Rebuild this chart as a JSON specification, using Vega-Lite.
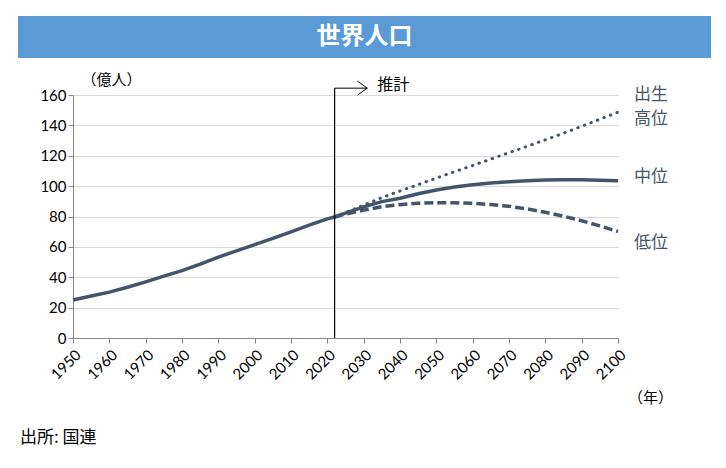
{
  "$schema": "https://vega.github.io/schema/vega-lite/v6.json",
  "background": "white",
  "padding": {"left": 18, "top": 16, "right": 0, "bottom": 12},
  "config": {
    "view": {"stroke": null},
    "axis": {"labelOverlap": false}
  },
  "title": {"text": "出所: 国連", "orient": "bottom", "anchor": "start", "font": "Noto Sans CJK JP", "fontSize": 17, "fontWeight": "normal", "color": "black", "offset": 24, "dx": 2},
  "datasets": {
    "pop": [
      {"year": 1950, "value": 25.0, "series": "実績"},
      {"year": 1955, "value": 27.7, "series": "実績"},
      {"year": 1960, "value": 30.2, "series": "実績"},
      {"year": 1965, "value": 33.4, "series": "実績"},
      {"year": 1970, "value": 37.0, "series": "実績"},
      {"year": 1975, "value": 40.7, "series": "実績"},
      {"year": 1980, "value": 44.4, "series": "実績"},
      {"year": 1985, "value": 48.6, "series": "実績"},
      {"year": 1990, "value": 53.3, "series": "実績"},
      {"year": 1995, "value": 57.4, "series": "実績"},
      {"year": 2000, "value": 61.5, "series": "実績"},
      {"year": 2005, "value": 65.6, "series": "実績"},
      {"year": 2010, "value": 69.9, "series": "実績"},
      {"year": 2015, "value": 74.3, "series": "実績"},
      {"year": 2020, "value": 78.4, "series": "実績"},
      {"year": 2022, "value": 79.7, "series": "実績"},
      {"year": 2022, "value": 79.7, "series": "中位"},
      {"year": 2025, "value": 82.2, "series": "中位"},
      {"year": 2030, "value": 86.3, "series": "中位"},
      {"year": 2035, "value": 89.8, "series": "中位"},
      {"year": 2040, "value": 92.0, "series": "中位"},
      {"year": 2045, "value": 95.0, "series": "中位"},
      {"year": 2050, "value": 97.4, "series": "中位"},
      {"year": 2055, "value": 99.4, "series": "中位"},
      {"year": 2060, "value": 100.9, "series": "中位"},
      {"year": 2065, "value": 102.0, "series": "中位"},
      {"year": 2070, "value": 102.9, "series": "中位"},
      {"year": 2075, "value": 103.6, "series": "中位"},
      {"year": 2080, "value": 104.0, "series": "中位"},
      {"year": 2085, "value": 104.2, "series": "中位"},
      {"year": 2090, "value": 104.2, "series": "中位"},
      {"year": 2095, "value": 103.9, "series": "中位"},
      {"year": 2100, "value": 103.6, "series": "中位"},
      {"year": 2022, "value": 79.7, "series": "高位"},
      {"year": 2025, "value": 82.6, "series": "高位"},
      {"year": 2030, "value": 87.5, "series": "高位"},
      {"year": 2035, "value": 92.4, "series": "高位"},
      {"year": 2040, "value": 96.8, "series": "高位"},
      {"year": 2045, "value": 101.0, "series": "高位"},
      {"year": 2050, "value": 105.3, "series": "高位"},
      {"year": 2055, "value": 109.5, "series": "高位"},
      {"year": 2060, "value": 113.6, "series": "高位"},
      {"year": 2065, "value": 117.8, "series": "高位"},
      {"year": 2070, "value": 122.0, "series": "高位"},
      {"year": 2075, "value": 126.2, "series": "高位"},
      {"year": 2080, "value": 130.5, "series": "高位"},
      {"year": 2085, "value": 134.8, "series": "高位"},
      {"year": 2090, "value": 139.4, "series": "高位"},
      {"year": 2095, "value": 144.0, "series": "高位"},
      {"year": 2100, "value": 148.7, "series": "高位"},
      {"year": 2022, "value": 79.7, "series": "低位"},
      {"year": 2025, "value": 81.6, "series": "低位"},
      {"year": 2030, "value": 84.2, "series": "低位"},
      {"year": 2035, "value": 86.4, "series": "低位"},
      {"year": 2040, "value": 87.8, "series": "低位"},
      {"year": 2045, "value": 88.7, "series": "低位"},
      {"year": 2050, "value": 89.1, "series": "低位"},
      {"year": 2055, "value": 89.0, "series": "低位"},
      {"year": 2060, "value": 88.7, "series": "低位"},
      {"year": 2065, "value": 87.9, "series": "低位"},
      {"year": 2070, "value": 86.7, "series": "低位"},
      {"year": 2075, "value": 85.0, "series": "低位"},
      {"year": 2080, "value": 82.8, "series": "低位"},
      {"year": 2085, "value": 80.2, "series": "低位"},
      {"year": 2090, "value": 77.2, "series": "低位"},
      {"year": 2095, "value": 73.8, "series": "低位"},
      {"year": 2100, "value": 70.1, "series": "低位"}
    ],
    "labels": [
      {"year": 2100, "value": 159.9, "label": ["出生", "高位"]},
      {"year": 2100, "value": 105.9, "label": ["中位"]},
      {"year": 2100, "value": 62.5, "label": ["低位"]}
    ],
    "vline": [{"year": 2022, "value": 0, "value2": 164.5}],
    "hline": [{"year": 2022, "year2": 2031, "value": 164.5}],
    "arrow": [{"year": 2031, "value": 164.5, "text": "推計"}],
    "unit": [{"year": 2100, "value": 0, "text": "（年）"}]
  },
  "vconcat": [
    {
      "width": 693,
      "height": 42,
      "view": {"fill": "#5B9BD5", "stroke": null},
      "data": {"values": [{"t": "世界人口"}]},
      "mark": {"type": "text", "color": "white", "font": "Noto Sans CJK JP", "fontSize": 24, "fontWeight": "bold", "baseline": "middle", "align": "center"},
      "encoding": {"text": {"field": "t"}}
    },
    {
      "hconcat": [
        {
          "width": 21,
          "height": 243,
          "data": {"values": [{"t": ""}]},
          "mark": {"type": "text"},
          "encoding": {"text": {"field": "t"}}
        },
        {
          "width": 545,
          "height": 243,
          "encoding": {
            "x": {
              "field": "year", "type": "quantitative",
              "scale": {"domain": [1950, 2100], "nice": false, "zero": false},
              "axis": {
                "values": [1950, 1960, 1970, 1980, 1990, 2000, 2010, 2020, 2030, 2040, 2050, 2060, 2070, 2080, 2090, 2100],
                "format": "d", "labelAngle": -45, "grid": false, "labelOverlap": false,
                "labelFont": "Lato", "labelFontSize": 15, "labelColor": "black", "labelPadding": 4,
                "domainColor": "#868686", "tickColor": "#868686", "tickSize": 5,
                "title": null
              }
            },
            "y": {
              "field": "value", "type": "quantitative",
              "scale": {"domain": [0, 160], "nice": false},
              "axis": {
                "values": [0, 20, 40, 60, 80, 100, 120, 140, 160], "labelOverlap": false,
                "labelFont": "Lato", "labelFontSize": 15, "labelColor": "black",
                "domainColor": "#868686", "tickColor": "#868686", "tickSize": 5,
                "gridColor": "#D9D9D9", "gridWidth": 1,
                "title": "（億人）", "titleX": 8, "titleY": -11, "titleAlign": "left",
                "titleBaseline": "alphabetic", "titleAngle": 0, "titleFont": "Noto Sans CJK JP",
                "titleFontSize": 15, "titleFontWeight": "normal", "titleColor": "black"
              }
            }
          },
          "layer": [
            {
              "data": {"name": "pop"},
              "transform": [{"filter": "datum.series === '実績' || datum.series === '中位'"}],
              "mark": {"type": "line", "color": "#44546A", "strokeWidth": 3.5},
              "encoding": {"detail": {"field": "series"}}
            },
            {
              "data": {"name": "pop"},
              "transform": [{"filter": "datum.series === '高位'"}],
              "mark": {"type": "line", "color": "#44546A", "strokeWidth": 3, "strokeDash": [0.5, 6.5], "strokeCap": "round"},
              "encoding": {}
            },
            {
              "data": {"name": "pop"},
              "transform": [{"filter": "datum.series === '低位'"}],
              "mark": {"type": "line", "color": "#44546A", "strokeWidth": 3.5, "strokeDash": [9, 4]},
              "encoding": {}
            },
            {
              "data": {"name": "vline"},
              "mark": {"type": "rule", "color": "black", "strokeWidth": 1.2},
              "encoding": {"y2": {"field": "value2"}}
            },
            {
              "data": {"name": "hline"},
              "mark": {"type": "rule", "color": "black", "strokeWidth": 1},
              "encoding": {"x2": {"field": "year2"}}
            },
            {
              "data": {"name": "arrow"},
              "mark": {"type": "point", "shape": "M-1.4,-1L0,0L-1.4,1", "filled": false, "stroke": "black", "strokeWidth": 1, "size": 196, "opacity": 1}
            },
            {
              "data": {"name": "arrow"},
              "mark": {"type": "text", "font": "Noto Sans CJK JP", "fontSize": 16, "color": "black", "align": "left", "baseline": "middle", "dx": 10, "dy": -3},
              "encoding": {"text": {"field": "text"}}
            },
            {
              "data": {"name": "labels"},
              "mark": {"type": "text", "font": "Noto Sans CJK JP", "fontSize": 17, "color": "#44546A", "align": "left", "baseline": "middle", "dx": 16, "lineHeight": 24},
              "encoding": {"text": {"field": "label"}}
            },
            {
              "data": {"name": "unit"},
              "mark": {"type": "text", "font": "Noto Sans CJK JP", "fontSize": 15, "color": "black", "align": "left", "baseline": "alphabetic", "dx": 10, "dy": 65},
              "encoding": {"text": {"field": "text"}}
            }
          ]
        }
      ],
      "spacing": 0
    }
  ],
  "spacing": 14
}
